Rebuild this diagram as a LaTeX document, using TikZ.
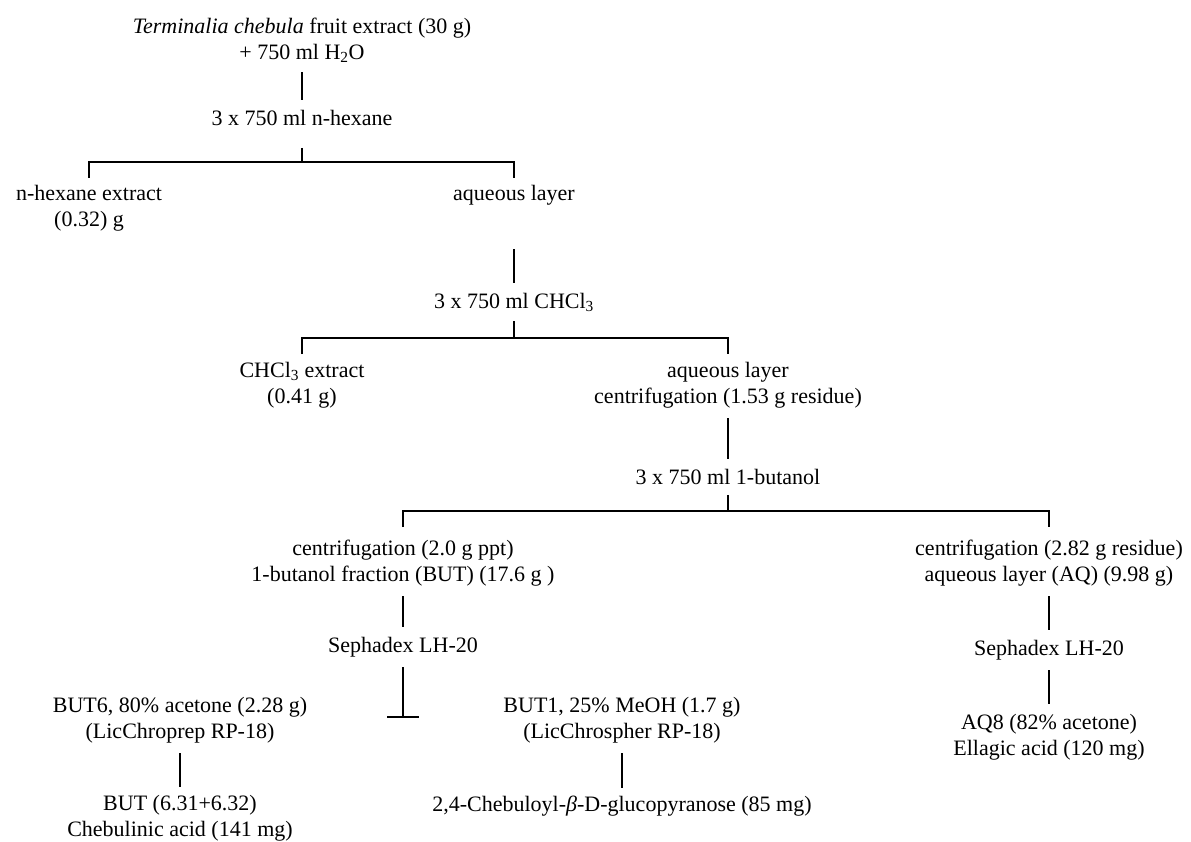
\documentclass[tikz,border=0pt]{standalone}
\usepackage{fontspec}
\setmainfont{Liberation Serif}
\begin{document}
\begin{tikzpicture}[x=1pt,y=-1pt,
    every node/.style={inner sep=0pt,align=center,font=\fontsize{22}{26}\selectfont},
    link/.style={line width=1.4pt,shorten <=10pt,shorten >=10pt},
    wire/.style={line width=1.4pt}]
    \useasboundingbox (0,0) rectangle (1191,842);

    % extraction steps
    \node (src) at (302,40) {\textit{Terminalia chebula} fruit extract (30 g)\\+ 750 ml H\textsubscript{2}O};
    \node (hex) at (302,118) {3 x 750 ml n-hexane};
    \node (hexext) at (89,208) {n-hexane extract\\(0.32) g};
    \node (aq1) at (514,195) {aqueous layer};
    \node (chcl) at (514,302) {3 x 750 ml CHCl\textsubscript{3}};
    \node (chclext) at (302,385) {CHCl\textsubscript{3} extract\\(0.41 g)};
    \node (aq2) at (728,385) {aqueous layer\\centrifugation (1.53 g residue)};
    \node (but) at (728,477) {3 x 750 ml 1-butanol};

    % butanol and aqueous fractions
    \node (butfr) at (403,563) {centrifugation (2.0 g ppt)\\1-butanol fraction (BUT) (17.6 g )};
    \node (aqfr) at (1049,563) {centrifugation (2.82 g residue)\\aqueous layer (AQ) (9.98 g)};
    \node (sephL) at (403,647) {Sephadex LH-20};
    \node (sephR) at (1049,650) {Sephadex LH-20};
    \node (but6) at (180,720) {BUT6, 80\% acetone (2.28 g)\\(LicChroprep RP-18)};
    \node (but1) at (622,720) {BUT1, 25\% MeOH (1.7 g)\\(LicChrospher RP-18)};
    \node (aq8) at (1049,737) {AQ8 (82\% acetone)\\Ellagic acid (120 mg)};
    \node (cheb) at (180,818) {BUT (6.31+6.32)\\Chebulinic acid (141 mg)};
    \node (gluco) at (622,806) {2,4-Chebuloyl-\textit{β}-D-glucopyranose (85 mg)};

    % junctions
    \coordinate (j1) at (302,162);
    \coordinate (j2) at (514,338);
    \coordinate (j3) at (728,511);
    \coordinate (tee) at (403,717);

    \draw[link] (src) -- (hex);
    \draw[link,shorten <=22pt,shorten >=0pt] (hex) -- (j1);
    \draw[wire] (hexext |- j1) ++(0,16) -- (hexext |- j1) -- (aq1 |- j1) -- ++(0,16);

    \draw[link,shorten <=44pt] (aq1) -- (chcl);
    \draw[link,shorten >=0pt] (chcl) -- (j2);
    \draw[wire] (chclext |- j2) ++(0,16) -- (chclext |- j2) -- (aq2 |- j2) -- ++(0,16);

    \draw[link] (aq2) -- (but);
    \draw[link,shorten >=0pt] (but) -- (j3);
    \draw[wire] (butfr |- j3) ++(0,16) -- (butfr |- j3) -- (aqfr |- j3) -- ++(0,16);

    \draw[link] (butfr) -- (sephL);
    \draw[link,shorten >=0pt] (sephL) -- (tee);
    \draw[wire] ([xshift=-16pt]tee) -- ([xshift=16pt]tee);
    \draw[link,shorten >=8pt] (but6) -- (cheb);
    \draw[link,shorten >=8pt] (but1) -- (gluco);

    \draw[link] (aqfr) -- (sephR);
    \draw[link] (sephR) -- (aq8);
\end{tikzpicture}
\end{document}
